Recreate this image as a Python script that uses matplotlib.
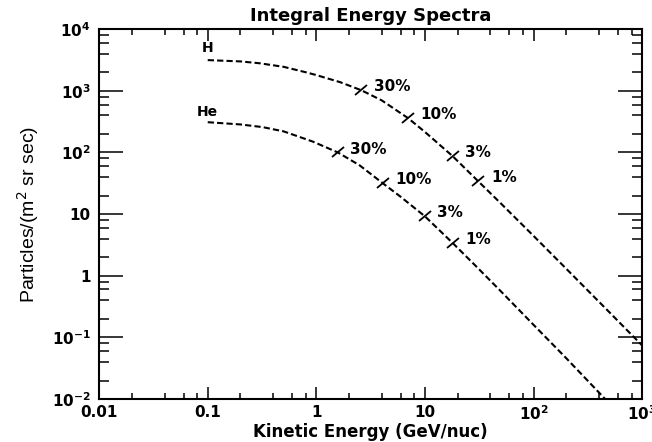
import numpy as np
import matplotlib
matplotlib.use('Agg')
import matplotlib.pyplot as plt
from matplotlib.markers import MarkerStyle
from matplotlib.transforms import Affine2D
from matplotlib.ticker import FixedLocator, FixedFormatter, NullFormatter

# Integral spectra (GeV/nuc, particles/(m^2 sr sec))
h_energy = [0.1, 0.2, 0.3, 0.5, 0.8, 1.0, 1.66, 2.6, 4.0, 7.0, 10, 18, 31, 50, 100, 200, 500, 1000]
h_flux = [3150, 3000, 2800, 2450, 2000, 1800, 1380, 1020, 700, 360, 215, 87, 34, 14.9, 4.43, 1.30, 0.255, 0.074]

he_energy = [0.1, 0.2, 0.32, 0.5, 0.93, 1.58, 2.5, 4.1, 6.0, 10, 18, 30, 50, 100, 200, 457]
he_flux = [310, 285, 258, 220, 150, 100, 62, 31.6, 19, 9.2, 3.4, 1.39, 0.56, 0.16, 0.046, 0.01]

# percentage marks along each curve
h_mark_e = [2.6, 7.0, 18, 31]
h_mark_f = [1020, 360, 87, 34]
he_mark_e = [1.58, 4.1, 10, 18]
he_mark_f = [100, 31.6, 9.2, 3.4]
mark_labels = ['30%', '10%', '3%', '1%']

x_ticks = [0.01, 0.1, 1, 10, 100, 1000]
x_labels = ['0.01', '0.1', '1', '10', r'$\mathbf{10^2}$', r'$\mathbf{10^3}$']
y_ticks = [0.01, 0.1, 1, 10, 100, 1000, 10000]
y_labels = [r'$\mathbf{10^{-2}}$', r'$\mathbf{10^{-1}}$', '1', '10',
            r'$\mathbf{10^2}$', r'$\mathbf{10^3}$', r'$\mathbf{10^4}$']

fig = plt.figure(figsize=(6.52, 4.42), dpi=100)
ax = fig.add_axes([0.152, 0.097, 0.833, 0.837])

ax.plot(h_energy, h_flux, color='black', lw=1.5, ls=(0, (3, 1.5)))
ax.plot(he_energy, he_flux, color='black', lw=1.5, ls=(0, (3, 1.5)))

tick_mark = MarkerStyle('_', transform=Affine2D().rotate_deg(40))
for es, fs in [(h_mark_e, h_mark_f), (he_mark_e, he_mark_f)]:
    ax.plot(es, fs, ls='none', marker=tick_mark, markersize=12, mew=1.3, color='black')
    for e, f, lab in zip(es, fs, mark_labels):
        ax.annotate(lab, (e, f), xytext=(9, 2.5), textcoords='offset points',
                    ha='left', va='center', fontsize=11, fontweight='bold')

ax.text(0.1, 4900, 'H', ha='center', va='center', fontsize=10, fontweight='bold')
ax.text(0.1, 452, 'He', ha='center', va='center', fontsize=10, fontweight='bold')

ax.set_xscale('log')
ax.set_yscale('log')
ax.set_xlim(0.01, 1000)
ax.set_ylim(0.01, 10000)

ax.xaxis.set_major_locator(FixedLocator(x_ticks))
ax.xaxis.set_major_formatter(FixedFormatter(x_labels))
ax.yaxis.set_major_locator(FixedLocator(y_ticks))
ax.yaxis.set_major_formatter(FixedFormatter(y_labels))
minor = [m * 10.0 ** d for d in range(-3, 5) for m in (2, 4, 6, 8)]
ax.xaxis.set_minor_locator(FixedLocator(minor))
ax.yaxis.set_minor_locator(FixedLocator(minor))
ax.xaxis.set_minor_formatter(NullFormatter())
ax.yaxis.set_minor_formatter(NullFormatter())

ax.tick_params(which='both', direction='in', top=True, right=True, width=1.1, colors='black')
ax.tick_params(axis='x', which='major', length=8.5, pad=4, labelsize=11)
ax.tick_params(axis='x', which='minor', length=4.5)
ax.tick_params(axis='y', which='major', length=17, pad=6, labelsize=11)
ax.tick_params(axis='y', which='minor', length=7.5)
for lab in ax.get_xticklabels() + ax.get_yticklabels():
    lab.set_fontweight('bold')
for sp in ax.spines.values():
    sp.set_linewidth(1.5)

ax.set_title('Integral Energy Spectra', fontsize=13, fontweight='bold', pad=6)
ax.set_xlabel('Kinetic Energy (GeV/nuc)', fontsize=12, fontweight='bold', labelpad=0)
ax.set_ylabel('Particles/(m$^2$ sr sec)', fontsize=14, family='Liberation Sans',
              fontstretch='condensed', labelpad=8)

fig.savefig('out.png', dpi=100)
